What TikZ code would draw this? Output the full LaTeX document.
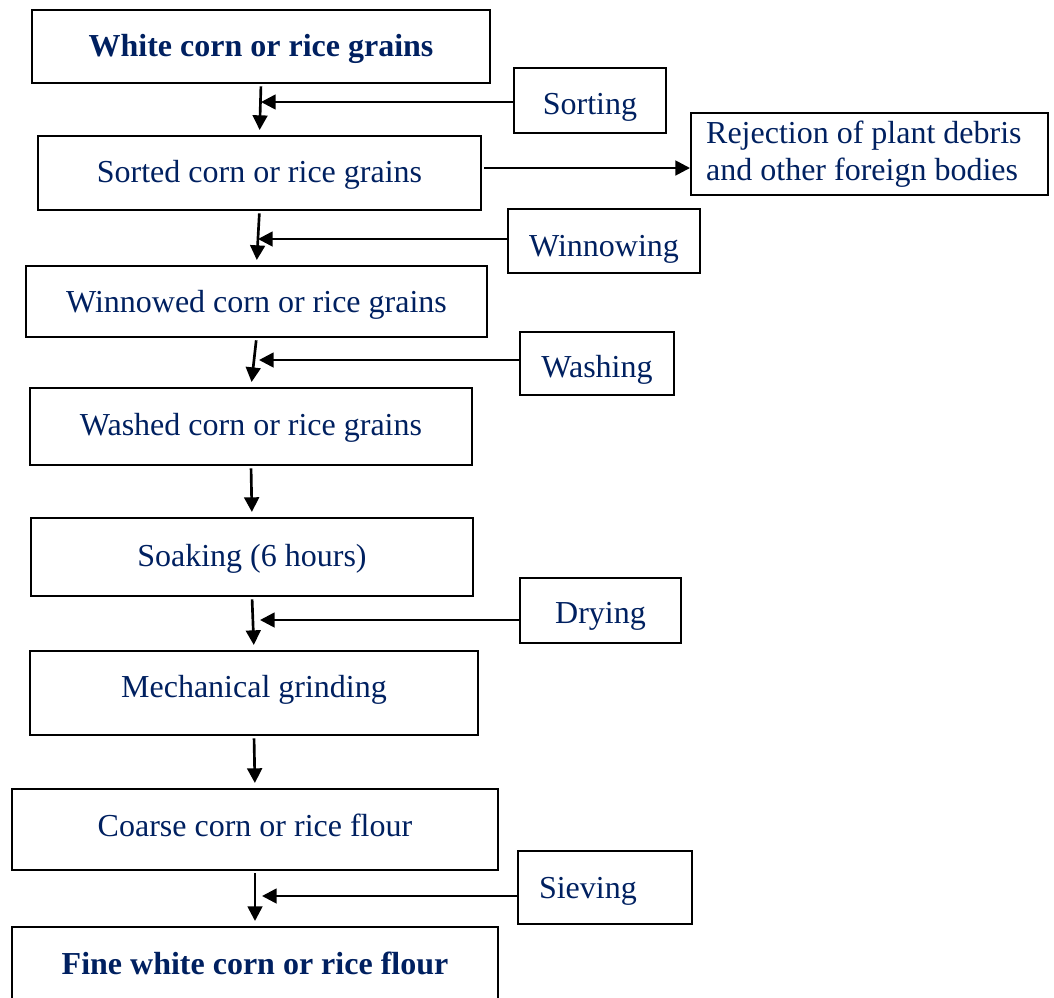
\documentclass[tikz,border=0pt]{standalone}
\usepackage{fontspec}
\setmainfont{Liberation Serif}
\usetikzlibrary{arrows.meta}
\definecolor{navy}{RGB}{0,32,96}
\tikzset{
	stagebox/.style={draw, line width=1pt, text=navy, inner sep=0pt, text height=19.4pt, text depth=5.2pt, font=\fontsize{24}{28}\selectfont},
	headbox/.style={stagebox, text height=19.5pt, font=\fontsize{24}{28}\selectfont\bfseries},
	flow/.style={-{Triangle[length=11pt,width=11pt]}, line width=2pt, shorten <=2pt, shorten >=4pt},
	feed/.style={-{Triangle[length=11pt,width=11pt]}, line width=2pt},
}
\begin{document}
\begin{tikzpicture}[x=0.75pt,y=-0.75pt]
	\useasboundingbox (0,0) rectangle (1054,997);

	% main line
	\node[headbox, minimum width=343.5pt, minimum height=54.75pt] (white) at (261,46.5) {White corn or rice grains};
	\node[stagebox, minimum width=332.25pt, minimum height=55.5pt] (sorted) at (259.5,173) {Sorted corn or rice grains};
	\node[stagebox, minimum width=345.75pt, minimum height=53.25pt, text height=21.4pt] (winnowed) at (256.5,301.5) {Winnowed corn or rice grains};
	\node[stagebox, minimum width=331.5pt, minimum height=57.75pt] (washed) at (251,426.5) {Washed corn or rice grains};
	\node[stagebox, minimum width=331.5pt, minimum height=58.5pt] (soaking) at (252,557) {Soaking (6 hours)};
	\node[stagebox, minimum width=336pt, minimum height=63pt, text depth=12pt] (grinding) at (254,693) {Mechanical grinding};
	\node[stagebox, minimum width=364.5pt, minimum height=60.75pt, text depth=9pt] (coarse) at (255,829.5) {Coarse corn or rice flour};
	\node[headbox, minimum width=364.5pt, minimum height=56.25pt, text height=20.2pt] (fine) at (255,964.5) {Fine white corn or rice flour};

	% operations
	\node[stagebox, minimum width=114pt, minimum height=48.75pt, text height=26.9pt] (sorting) at (590,100.5) {Sorting};
	\node[stagebox, line width=1.7pt, align=flush left, text width=245pt, inner xsep=11.25pt, minimum height=61.5pt, text height={}, text depth={}] (rejection) at (869.5,154) {Rejection of plant debris\\and other foreign bodies};
	\node[stagebox, minimum width=144pt, minimum height=48pt, text height=28.4pt] (winnowing) at (604,241) {Winnowing};
	\node[stagebox, minimum width=115.5pt, minimum height=47.25pt, text height=26.9pt] (washing) at (597,363.5) {Washing};
	\node[stagebox, minimum width=120.75pt, minimum height=48.75pt, text height=25.4pt] (drying) at (600.5,610.5) {Drying};
	\node[stagebox, align=left, text width=99pt, inner xsep=15.75pt, minimum height=54.75pt, text height=22.4pt] (sieving) at (605,887.5) {Sieving};

	% arrows down
	\draw[flow] (white.south) -- (sorted.north);
	\draw[flow] (sorted.south) -- (winnowed.north);
	\draw[flow] (winnowed.south) -- (washed.north);
	\draw[flow] (washed.south) -- (soaking.north);
	\draw[flow] (soaking.south) -- (grinding.north);
	\draw[flow] (grinding.south) -- (coarse.north);
	\draw[flow] (coarse.south) -- (fine.north);

	% side inputs
	\coordinate (j1) at (261,102);
	\coordinate (j2) at (258,239);
	\coordinate (j3) at (259,360);
	\coordinate (j5) at (260,620);
	\coordinate (j7) at (262,896);
	\draw[feed] (sorting.west |- j1) -- (j1);
	\draw[feed] (winnowing.west |- j2) -- (j2);
	\draw[feed] (washing.west |- j3) -- (j3);
	\draw[feed] (drying.west |- j5) -- (j5);
	\draw[feed] (sieving.west |- j7) -- (j7);

	% rejection
	\coordinate (rj) at (484,168);
	\draw[feed] (rj) -- (rj -| rejection.west);

\end{tikzpicture}
\end{document}
